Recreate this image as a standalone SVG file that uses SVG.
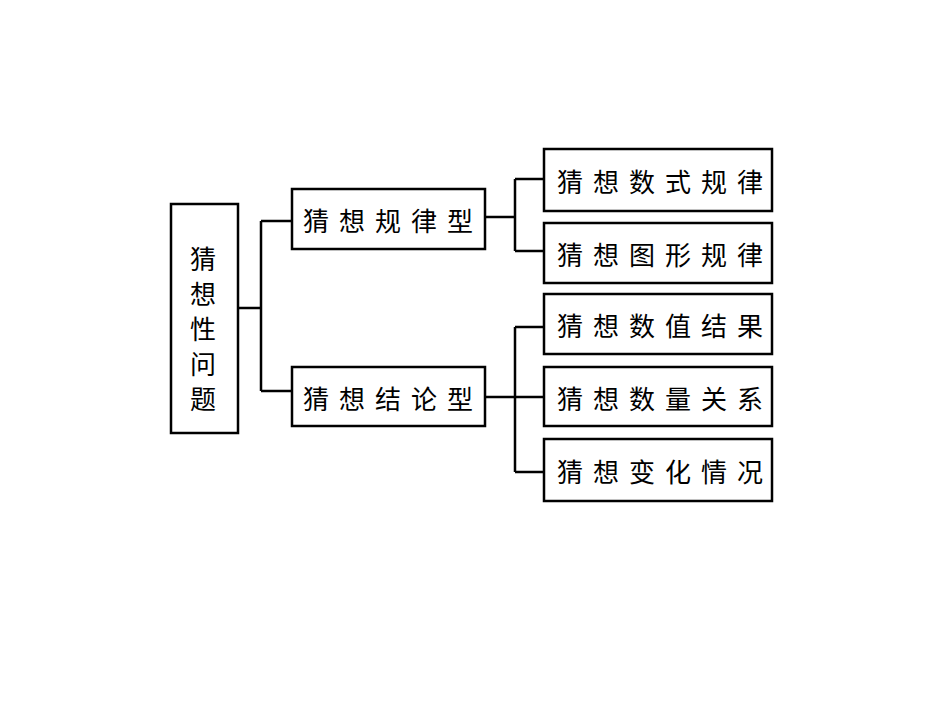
<svg xmlns="http://www.w3.org/2000/svg" width="950" height="722" viewBox="0 0 950 722">
<style>
.box{fill:#fff;stroke:#000;stroke-width:2.5}
.t{font-family:"Noto Sans CJK SC",sans-serif;font-size:26px;fill:#000;letter-spacing:10px;dominant-baseline:central}
.c{fill:none;stroke:#000;stroke-width:2.5}
</style>
<rect width="950" height="722" fill="#fff"/>
<g id="connectors">
<path class="c" d="M238 308H261M261 221V391M261 221H292M261 391H292"/>
<path class="c" d="M485 217H515M515 179V251M515 179H544M515 251H544"/>
<path class="c" d="M485 397H544M515 327V472M515 327H544M515 472H544"/>
</g>
<g id="root">
<rect class="box" x="171" y="204" width="67" height="229"/>
<text class="t" x="203" y="257" text-anchor="middle" style="letter-spacing:0">猜</text>
<text class="t" x="203" y="292" text-anchor="middle" style="letter-spacing:0">想</text>
<text class="t" x="203" y="327" text-anchor="middle" style="letter-spacing:0">性</text>
<text class="t" x="203" y="362" text-anchor="middle" style="letter-spacing:0">问</text>
<text class="t" x="203" y="397" text-anchor="middle" style="letter-spacing:0">题</text>
</g>
<g id="n1">
<rect class="box" x="292" y="189" width="193" height="60"/>
<text class="t" x="303" y="219">猜想规律型</text>
</g>
<g id="n2">
<rect class="box" x="292" y="367" width="193" height="59"/>
<text class="t" x="303" y="397">猜想结论型</text>
</g>
<g id="n11">
<rect class="box" x="544" y="149" width="228" height="62"/>
<text class="t" x="557" y="180">猜想数式规律</text>
</g>
<g id="n12">
<rect class="box" x="544" y="223" width="228" height="60"/>
<text class="t" x="557" y="253">猜想图形规律</text>
</g>
<g id="n21">
<rect class="box" x="544" y="294" width="228" height="60"/>
<text class="t" x="557" y="324">猜想数值结果</text>
</g>
<g id="n22">
<rect class="box" x="544" y="367" width="228" height="59"/>
<text class="t" x="557" y="397">猜想数量关系</text>
</g>
<g id="n23">
<rect class="box" x="544" y="439" width="228" height="62"/>
<text class="t" x="557" y="470">猜想变化情况</text>
</g>
</svg>
